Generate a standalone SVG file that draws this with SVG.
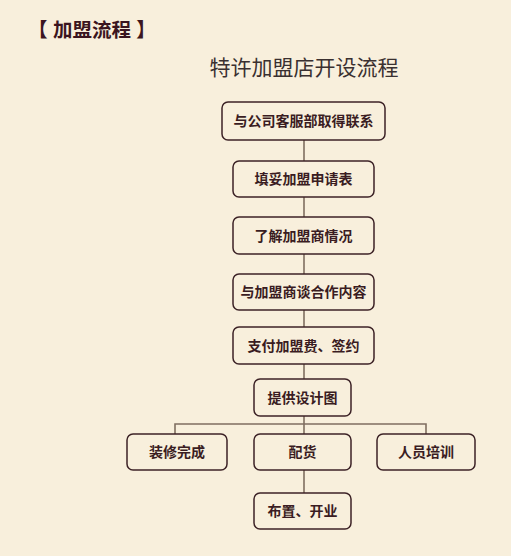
<svg xmlns="http://www.w3.org/2000/svg" width="511" height="556" viewBox="0 0 511 556">
<style>
.box{fill:#f8efdc;stroke:#3c2226;stroke-width:1.5}
.lbl{font-family:"Liberation Sans","Noto Sans CJK SC",sans-serif;font-size:14px;font-weight:bold;fill:#3a1c22;text-anchor:middle;dominant-baseline:central}
.conn{stroke:#7f6e60;stroke-width:1.6;fill:none}
</style>
<rect width="511" height="556" fill="#f8efdc"/>
<text x="28" y="37" font-family="'Liberation Sans','Noto Sans CJK SC',sans-serif" font-size="19.5" font-weight="bold" fill="#3b1520">【 加盟流程 】</text>
<text x="304" y="75" font-family="'Liberation Sans','Noto Sans CJK SC',sans-serif" font-size="21" fill="#3a3030" text-anchor="middle">特许加盟店开设流程</text>
<g id="connectors">
<line class="conn" x1="304" y1="140" x2="304" y2="161"/>
<line class="conn" x1="304" y1="197" x2="304" y2="217"/>
<line class="conn" x1="304" y1="254" x2="304" y2="274"/>
<line class="conn" x1="304" y1="310" x2="304" y2="327"/>
<line class="conn" x1="304" y1="364" x2="304" y2="379"/>
<line class="conn" x1="304" y1="416" x2="304" y2="434"/>
<polyline class="conn" points="175,434 175,424 426,424 426,434"/>
<line class="conn" x1="304" y1="470" x2="304" y2="493"/>
</g>
<g id="n1"><rect class="box" x="222" y="102" width="163" height="38" rx="6"/><text class="lbl" x="303.5" y="121">与公司客服部取得联系</text></g>
<g id="n2"><rect class="box" x="233" y="161" width="141" height="36" rx="6"/><text class="lbl" x="303.5" y="179">填妥加盟申请表</text></g>
<g id="n3"><rect class="box" x="233" y="217" width="141" height="37" rx="6"/><text class="lbl" x="303.5" y="235.5">了解加盟商情况</text></g>
<g id="n4"><rect class="box" x="233" y="274" width="141" height="36" rx="6"/><text class="lbl" x="303.5" y="292">与加盟商谈合作内容</text></g>
<g id="n5"><rect class="box" x="233" y="327" width="141" height="37" rx="6"/><text class="lbl" x="303.5" y="345.5">支付加盟费、签约</text></g>
<g id="n6"><rect class="box" x="254" y="379" width="97" height="37" rx="6"/><text class="lbl" x="302.5" y="397.5">提供设计图</text></g>
<g id="n7"><rect class="box" x="127" y="434" width="100" height="36" rx="6"/><text class="lbl" x="177" y="452">装修完成</text></g>
<g id="n8"><rect class="box" x="254" y="434" width="97" height="36" rx="6"/><text class="lbl" x="302.5" y="452">配货</text></g>
<g id="n9"><rect class="box" x="377" y="434" width="98" height="36" rx="6"/><text class="lbl" x="426" y="452">人员培训</text></g>
<g id="n10"><rect class="box" x="254" y="493" width="97" height="36" rx="6"/><text class="lbl" x="302.5" y="511">布置、开业</text></g>
</svg>
